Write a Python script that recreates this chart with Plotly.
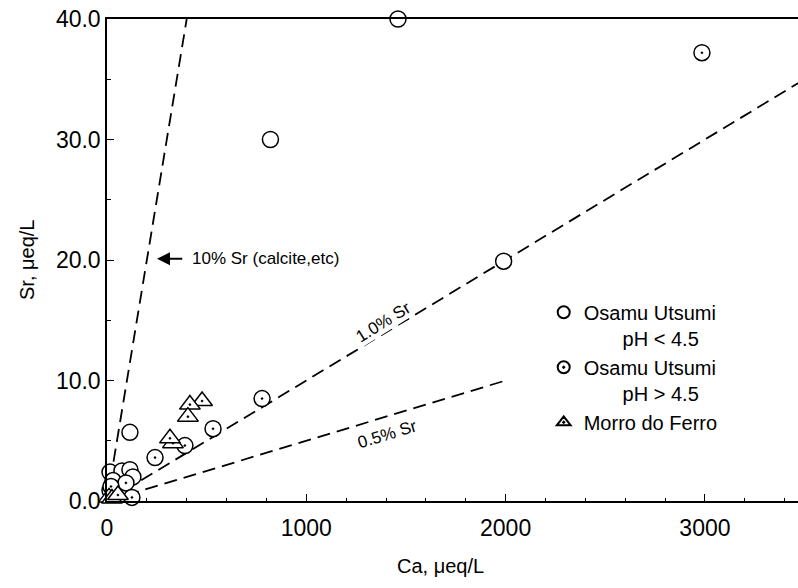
import plotly.graph_objects as go

# Data
open_ca = [1460, 820, 1990, 115, 15, 75, 115, 130, 30, 15]
open_sr = [40.0, 30.0, 19.9, 5.7, 2.4, 2.5, 2.6, 2.0, 1.7, 0.9]

dot_ca = [2985, 778, 532, 391, 241, 95, 125, 20]
dot_sr = [37.2, 8.5, 6.0, 4.6, 3.6, 1.5, 0.3, 1.2]

tri_ca = [477, 416, 406, 331, 316, 10, 25, 55]
tri_sr = [8.3, 8.0, 7.0, 4.8, 5.2, 0.3, 0.2, 0.5]

ref_ratios = [0.10, 0.01, 0.005]
ref_ca_end = [400, 3500, 2000]

x_ticks = [0, 1000, 2000, 3000]
y_ticks = [0, 10, 20, 30, 40]
y_ticklabels = ["0.0", "10.0", "20.0", "30.0", "40.0"]

FONT = "Liberation Sans, Arial, Helvetica, sans-serif"

fig = go.Figure()

# reference lines
for r, ce in zip(ref_ratios, ref_ca_end):
    fig.add_trace(go.Scatter(
        x=[0, ce], y=[0, r * ce], mode="lines",
        line=dict(color="black", width=1.8, dash="13px,7px"),
        showlegend=False, hoverinfo="skip", cliponaxis=True))

mk_line = dict(color="black", width=1.5)
fig.add_trace(go.Scatter(
    x=open_ca, y=open_sr, mode="markers",
    name="Osamu Utsumi<br>\u00a0\u00a0\u00a0\u00a0\u00a0\u00a0\u00a0pH < 4.5",
    marker=dict(symbol="circle", size=16, color="white", line=mk_line),
    cliponaxis=False))
fig.add_trace(go.Scatter(
    x=dot_ca, y=dot_sr, mode="markers",
    name="Osamu Utsumi<br>\u00a0\u00a0\u00a0\u00a0\u00a0\u00a0\u00a0pH > 4.5",
    marker=dict(symbol="circle-dot", size=16, color="white", line=mk_line),
    cliponaxis=False))
fig.add_trace(go.Scatter(
    x=tri_ca, y=tri_sr, mode="markers",
    name="Morro do Ferro",
    marker=dict(symbol="triangle-up-dot", size=18, color="white", line=mk_line),
    cliponaxis=False))

fig.update_layout(
    width=798, height=588,
    margin=dict(l=107, r=0, t=19, b=87, autoexpand=False),
    paper_bgcolor="white", plot_bgcolor="white",
    font=dict(family=FONT, color="black", size=20),
    showlegend=True,
    legend=dict(x=0.632, y=0.432, xanchor="left", yanchor="top",
                valign="top", bgcolor="rgba(0,0,0,0)",
                font=dict(size=20, family=FONT), itemsizing="constant",
                tracegroupgap=0),
    xaxis=dict(range=[0, 3467], showgrid=False, zeroline=False, automargin=False,
               showline=True, linecolor="black", linewidth=1.5, mirror=True,
               ticks="inside", ticklen=7, tickwidth=1.2, tickcolor="black",
               tickvals=x_ticks, ticktext=[str(v) for v in x_ticks],
               tickfont=dict(size=23), ticklabelstandoff=6,
               ticklabeloverflow="allow",
               minor=dict(ticks="inside", ticklen=3, dtick=200, tickcolor="black")),
    yaxis=dict(range=[0, 40], showgrid=False, zeroline=False, automargin=False,
               showline=True, linecolor="black", linewidth=1.5,
               ticks="inside", ticklen=7, tickwidth=1.2, tickcolor="black",
               tickvals=y_ticks, ticktext=y_ticklabels,
               tickfont=dict(size=23), ticklabeloverflow="allow",
               minor=dict(ticks="inside", ticklen=4, dtick=5, tickcolor="black")),
)

# axis titles
fig.add_annotation(text="Ca, \u03bceq/L", xref="paper", yref="paper",
                   x=(440 - 107) / 691, y=-(566 - 501) / 482, showarrow=False,
                   font=dict(size=20), xanchor="center", yanchor="middle")
fig.add_annotation(text="Sr, \u03bceq/L", xref="paper", yref="paper",
                   x=-(107 - 27) / 691, y=(501 - 260) / 482, showarrow=False,
                   textangle=-90, font=dict(size=20), xanchor="center", yanchor="middle")

# line labels
fig.add_annotation(text="10% Sr (calcite,etc)", x=415, y=20.1, xref="x", yref="y",
                   showarrow=False, xanchor="left", yanchor="middle", font=dict(size=17))
fig.add_annotation(text="", x=251, y=20.1, ax=385, ay=20.1, axref="x", ayref="y",
                   xref="x", yref="y", showarrow=True, arrowhead=2, arrowsize=1.3,
                   arrowwidth=2, arrowcolor="black", standoff=0)
fig.add_annotation(text="1.0% Sr", x=1385, y=14.8, xref="x", yref="y", showarrow=False,
                   textangle=-32, font=dict(size=17), bgcolor="white", borderpad=0)
fig.add_annotation(text="0.5% Sr", x=1405, y=5.5, xref="x", yref="y", showarrow=False,
                   textangle=-17, font=dict(size=17))

fig.write_html("out.html", config={"displayModeBar": False},
               post_script="document.body.style.margin='0';")
